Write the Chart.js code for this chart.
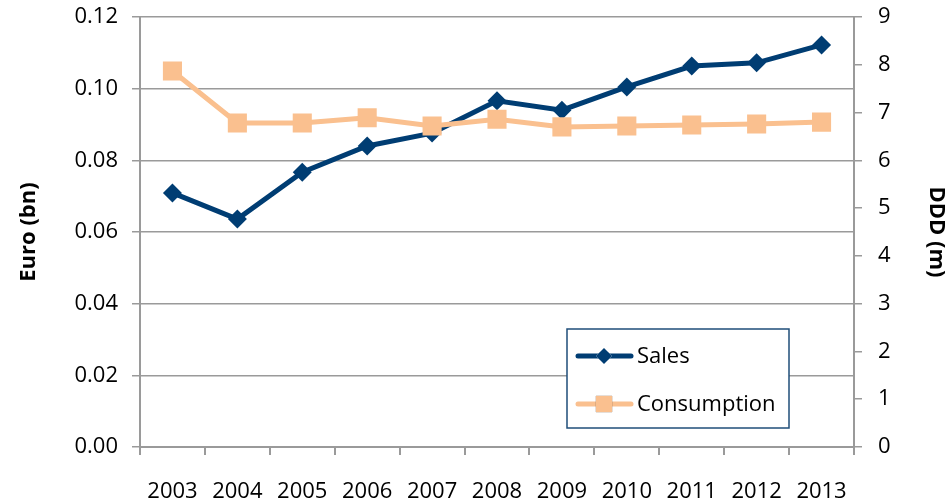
<!DOCTYPE html>
<html lang="en">
<head>
  <meta charset="UTF-8">
  <title>Sales and Consumption</title>
  <style>
    * { margin:0; padding:0; box-sizing:border-box; }
    body { background:#fff; width:949px; height:502px; overflow:hidden; }
    #wrap { position:relative; width:949px; height:502px; }
  </style>
  <script src="https://cdn.jsdelivr.net/npm/chart.js"></script>
</head>
<body>
  <div id="wrap"><canvas id="chart" width="949" height="502"></canvas></div>
  <script>
    const years = ['2003','2004','2005','2006','2007','2008','2009','2010','2011','2012','2013'];
    const sales = [0.0709, 0.0636, 0.0767, 0.0840, 0.0876, 0.0966, 0.0940, 0.1005, 0.1063, 0.1072, 0.1122];
    const consumption = [7.87, 6.78, 6.78, 6.89, 6.72, 6.86, 6.70, 6.72, 6.74, 6.76, 6.80];

    const FONT = '"Open Sans", sans-serif';
    const GRID = '#9a9a9a';

    // legend box drawn inside the plot, like the original
    const boxLegend = {
      id: 'boxLegend',
      afterDraw(chart) {
        const ctx = chart.ctx;
        const x0 = 567, y0 = 329, w = 222, h = 99;
        ctx.save();
        ctx.fillStyle = '#fff';
        ctx.fillRect(x0, y0, w, h);
        ctx.strokeStyle = '#1f4e79';
        ctx.lineWidth = 1.5;
        ctx.strokeRect(x0, y0, w, h);
        const rows = [27, 75];
        // Sales first, then Consumption
        [1, 0].forEach((di, i) => {
          const ds = chart.data.datasets[di];
          const y = y0 + rows[i];
          ctx.strokeStyle = ds.borderColor;
          ctx.lineWidth = ds.borderWidth;
          ctx.lineCap = 'round';
          ctx.beginPath(); ctx.moveTo(578, y); ctx.lineTo(631, y); ctx.stroke();
          Chart.helpers.drawPoint(ctx, {
            pointStyle: ds.pointStyle, radius: ds.pointRadius * 0.85,
            borderWidth: 0
          }, 604, y);
          ctx.fillStyle = ds.pointBackgroundColor;
          ctx.fill();
          ctx.fillStyle = '#000';
          ctx.font = '22px ' + FONT;
          ctx.textBaseline = 'middle';
          ctx.fillText(ds.label, 637, y + 1);
        });
        ctx.restore();
      }
    };

    // fixed axis box sizes; drop the label overhang padding so the plot top sits at 17px
    const fixY = w => s => { s.width = w; s.paddingTop = 0; s.paddingBottom = 0; };

    new Chart(document.getElementById('chart').getContext('2d'), {
      type: 'line',
      data: {
        labels: years,
        datasets: [
          { label: 'Consumption', data: consumption, yAxisID: 'y1', order: 1,
            borderColor: '#fac08f', backgroundColor: '#fac08f', borderWidth: 5,
            pointStyle: 'rect', pointRadius: 13.5, pointBackgroundColor: '#fac08f',
            pointBorderWidth: 0, tension: 0 },
          { label: 'Sales', data: sales, yAxisID: 'y', order: 2,
            borderColor: '#003d73', backgroundColor: '#003d73', borderWidth: 5,
            pointStyle: 'rectRot', pointRadius: 9.5, pointBackgroundColor: '#003d73',
            pointBorderWidth: 0, tension: 0 }
        ]
      },
      options: {
        responsive: false,
        animation: false,
        layout: { padding: { top: 17, left: 0, right: 0, bottom: 0 } },
        plugins: { legend: { display: false }, tooltip: { enabled: false } },
        scales: {
          x: {
            offset: true,
            grid: { display: true, drawOnChartArea: false, offset: true, color: GRID, lineWidth: 2, tickLength: 8 },
            border: { color: GRID, width: 2 },
            ticks: { color: '#000', font: { family: FONT, size: 22 }, padding: 24, maxRotation: 0, autoSkip: false },
            afterFit(s) { s.height = 55; }
          },
          y: {
            position: 'left', min: 0, max: 0.12,
            grid: { color: GRID, lineWidth: 1.5, tickLength: 8 },
            border: { color: GRID, width: 2 },
            ticks: { stepSize: 0.02, color: '#000', font: { family: FONT, size: 22 }, padding: 14,
              callback: v => v.toFixed(2) },
            title: { display: true, text: 'Euro (bn)', color: '#000',
              font: { family: FONT, size: 22, weight: 'bold' }, padding: { top: 16, bottom: 0 } },
            afterFit: fixY(140)
          },
          y1: {
            position: 'right', min: 0, max: 9,
            grid: { drawOnChartArea: false, color: GRID, lineWidth: 1.5, tickLength: 8 },
            border: { color: GRID, width: 2 },
            ticks: { stepSize: 1, color: '#000', font: { family: FONT, size: 22 }, padding: 16 },
            title: { display: true, text: 'DDD (m)', color: '#000',
              font: { family: FONT, size: 22, weight: 'bold' }, padding: { top: 0, bottom: 3 } },
            afterFit: fixY(95)
          }
        }
      },
      plugins: [boxLegend]
    });
  </script>
</body>
</html>
